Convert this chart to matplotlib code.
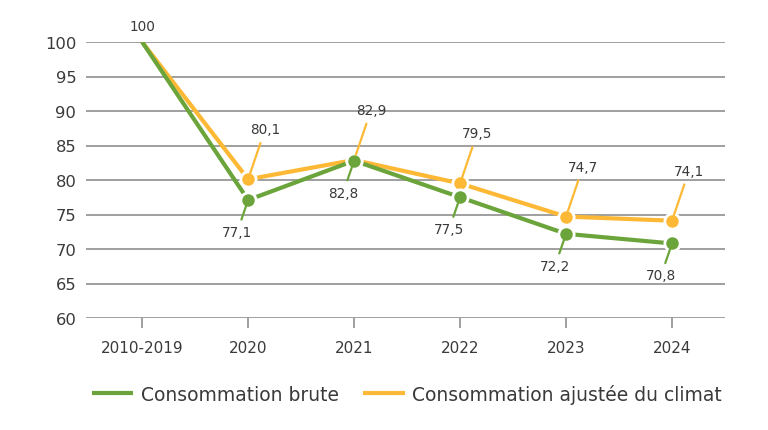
import matplotlib
matplotlib.use("Agg")
import matplotlib.pyplot as plt

categories = ["2010-2019", "2020", "2021", "2022", "2023", "2024"]
brute = [100, 77.1, 82.8, 77.5, 72.2, 70.8]
ajustee = [100, 80.1, 82.9, 79.5, 74.7, 74.1]
brute_labels = ["", "77,1", "82,8", "77,5", "72,2", "70,8"]
ajustee_labels = ["", "80,1", "82,9", "79,5", "74,7", "74,1"]
yticks = [60, 65, 70, 75, 80, 85, 90, 95, 100]

GREEN = "#6ba43a"
ORANGE = "#fdb935"
TEXT = "#3a3a3a"
GRID = "#8f8f8f"

plt.rcParams["font.family"] = ["DejaVu Sans"]

fig = plt.figure(figsize=(7.68, 4.31), dpi=100)
ax = fig.add_axes([86/768, 1-319/431, (725-86)/768, (319-43)/431])

x = list(range(len(categories)))

ax.plot(x, ajustee, color=ORANGE, lw=3.0, zorder=3, solid_capstyle="butt",
        label="Consommation ajustée du climat")
ax.plot(x, brute, color=GREEN, lw=3.0, zorder=4, solid_capstyle="butt",
        label="Consommation brute")
ax.plot(x[1:], ajustee[1:], 'o', color=ORANGE, ms=11, mec="white", mew=2, zorder=5)
ax.plot(x[1:], brute[1:], 'o', color=GREEN, ms=11, mec="white", mew=2, zorder=6)

for xi, v, lab in zip(x, ajustee, ajustee_labels):
    if lab:
        ax.annotate(lab, xy=(xi, v), xytext=(17, 50), textcoords="offset pixels",
                    ha="center", va="center", fontsize=9.8, color=TEXT,
                    arrowprops=dict(arrowstyle="-", color=ORANGE, lw=1.6,
                                    shrinkA=3, shrinkB=4), zorder=7)
for xi, v, lab in zip(x, brute, brute_labels):
    if lab:
        ax.annotate(lab, xy=(xi, v), xytext=(-11, -32), textcoords="offset pixels",
                    ha="center", va="center", fontsize=9.8, color=TEXT,
                    arrowprops=dict(arrowstyle="-", color=GREEN, lw=1.6,
                                    shrinkA=2, shrinkB=4), zorder=7)
ax.annotate("100", xy=(0, 100), xytext=(0, 16), textcoords="offset pixels",
            ha="center", va="center", fontsize=9.8, color=TEXT)

ax.set_xlim(-0.53, 5.5)
ax.set_ylim(60, 100)
ax.set_yticks(yticks)
ax.set_xticks(x)
ax.set_xticklabels(categories)
ax.yaxis.grid(True, color=GRID, lw=1.2)
ax.set_axisbelow(True)
for s in ax.spines.values():
    s.set_visible(False)
ax.tick_params(axis="y", length=0, pad=7, labelsize=11.8, labelcolor=TEXT)
ax.tick_params(axis="x", length=7, width=1.2, color=GRID, pad=9,
               labelsize=11, labelcolor=TEXT, direction="out")

handles, labels = ax.get_legend_handles_labels()
leg = fig.legend([handles[1], handles[0]], [labels[1], labels[0]],
                 loc="center", bbox_to_anchor=(407/768, 1-395/431), ncol=2,
                 frameon=False, fontsize=13.5, handlelength=2.2, handletextpad=0.4,
                 columnspacing=1.3)
for t in leg.get_texts():
    t.set_color(TEXT)

fig.savefig("out.png", dpi=100)
